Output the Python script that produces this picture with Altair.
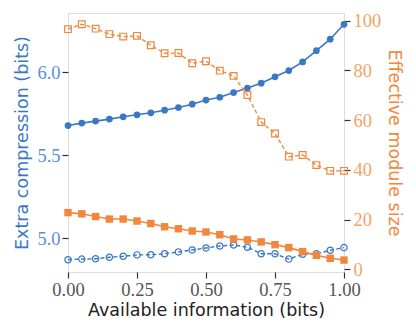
import altair as alt
import pandas as pd

x_vals = [round(i * 0.05, 2) for i in range(21)]

blue_solid = [5.678, 5.693, 5.705, 5.717, 5.731, 5.743, 5.755, 5.771, 5.787, 5.807,
              5.832, 5.849, 5.877, 5.904, 5.934, 5.972, 6.010, 6.062, 6.130, 6.199, 6.289]
blue_dashed = [4.869, 4.873, 4.875, 4.884, 4.890, 4.898, 4.899, 4.905, 4.916, 4.928,
               4.940, 4.952, 4.958, 4.944, 4.905, 4.905, 4.873, 4.902, 4.905, 4.926, 4.942]
orange_solid = [22.8, 22.3, 21.2, 20.2, 20.2, 19.4, 18.4, 17.1, 16.3, 15.4,
                15.0, 13.9, 12.2, 11.8, 11.0, 9.9, 8.7, 7.1, 5.6, 4.4, 3.7]
orange_dashed = [96.6, 98.6, 96.8, 94.6, 93.6, 93.9, 90.1, 86.9, 87.0, 82.9,
                 83.7, 79.9, 77.8, 70.1, 59.2, 54.6, 45.3, 46.0, 41.9, 39.6, 39.6]

x_ticks = [0.0, 0.25, 0.5, 0.75, 1.0]
left_ticks = [5.0, 5.5, 6.0]
right_ticks = [0, 20, 40, 60, 80, 100]

BLUE = "#3a78c6"
ORANGE = "#f0873d"
BLUE_LABEL = "#5b90d6"
ORANGE_LABEL = "#f5a266"
SERIF = "Liberation Serif"
SANS = "DejaVu Sans"

df = pd.DataFrame({
    "x": x_vals,
    "bs": blue_solid,
    "bd": blue_dashed,
    "os": orange_solid,
    "od": orange_dashed,
})

xscale = alt.Scale(domain=[0, 1], nice=False, zero=False)
xaxis = alt.Axis(values=x_ticks, format=".2f", title="Available information (bits)",
                 labelFont=SERIF, labelFontSize=18.5, labelColor="#555", labelFlush=False,
                 titleFont=SANS, titleFontSize=17.5, titleFontWeight="normal",
                 titleColor="#222", tickColor="#333", tickSize=6, tickWidth=1.2,
                 domain=False, grid=False, labelPadding=2, titlePadding=3)


def X(with_axis=False):
    if with_axis:
        return alt.X("x:Q", scale=xscale, axis=xaxis)
    return alt.X("x:Q", scale=xscale)


lscale = alt.Scale(domain=[4.795, 6.357], nice=False, zero=False)
rscale = alt.Scale(domain=[-1.1, 103.1], nice=False, zero=False)

laxis = alt.Axis(values=left_ticks, format=".1f", title="Extra compression (bits)",
                 labelFont=SERIF, labelFontSize=18.5, labelColor=BLUE_LABEL, labelFlush=False,
                 titleFont=SANS, titleFontSize=17.5, titleFontWeight="normal",
                 titleColor=BLUE, tickColor="#333", tickSize=6, tickWidth=1.2, domain=False,
                 grid=False, labelPadding=2, titlePadding=5, orient="left")
raxis = alt.Axis(values=right_ticks, format="d", title="Effective module size",
                 labelFont=SERIF, labelFontSize=18.5, labelColor=ORANGE_LABEL, labelFlush=False,
                 titleFont=SANS, titleFontSize=17.5, titleFontWeight="normal",
                 titleColor=ORANGE, tickColor="#333", tickSize=6, tickWidth=1.2, domain=False,
                 grid=False, labelPadding=3, titlePadding=4, orient="right")

base = alt.Chart(df)

left = alt.layer(
    base.mark_line(color=BLUE, strokeWidth=1.6).encode(x=X(True), y=alt.Y("bs:Q", scale=lscale, axis=laxis)),
    base.mark_point(color=BLUE, filled=True, opacity=1, size=45, shape="circle").encode(
        x=X(), y=alt.Y("bs:Q", scale=lscale)),
    base.mark_line(color=BLUE, strokeWidth=1.4, strokeDash=[4, 2.5]).encode(
        x=X(), y=alt.Y("bd:Q", scale=lscale)),
    base.mark_point(color=BLUE, filled=False, opacity=1, size=40, strokeWidth=1.2, shape="circle").encode(
        x=X(), y=alt.Y("bd:Q", scale=lscale)),
)

right = alt.layer(
    base.mark_line(color=ORANGE, strokeWidth=1.6).encode(x=X(), y=alt.Y("os:Q", scale=rscale, axis=raxis)),
    base.mark_point(color=ORANGE, filled=True, opacity=1, size=55, shape="square").encode(
        x=X(), y=alt.Y("os:Q", scale=rscale)),
    base.mark_line(color=ORANGE, strokeWidth=1.4, strokeDash=[4, 2.5]).encode(
        x=X(), y=alt.Y("od:Q", scale=rscale)),
    base.mark_point(color=ORANGE, filled=False, opacity=1, size=45, strokeWidth=1.2, shape="square").encode(
        x=X(), y=alt.Y("od:Q", scale=rscale)),
)

chart = alt.layer(left, right).resolve_scale(y="independent").properties(
    width=276, height=259,
    autosize=alt.AutoSizeParams(type="none"),
    padding={"left": 60, "top": 5, "right": 64, "bottom": 55},
).configure_view(stroke="#333", strokeWidth=1.3).configure(background="white")

chart.save("out.html", embed_options={"renderer": "svg", "actions": False})
